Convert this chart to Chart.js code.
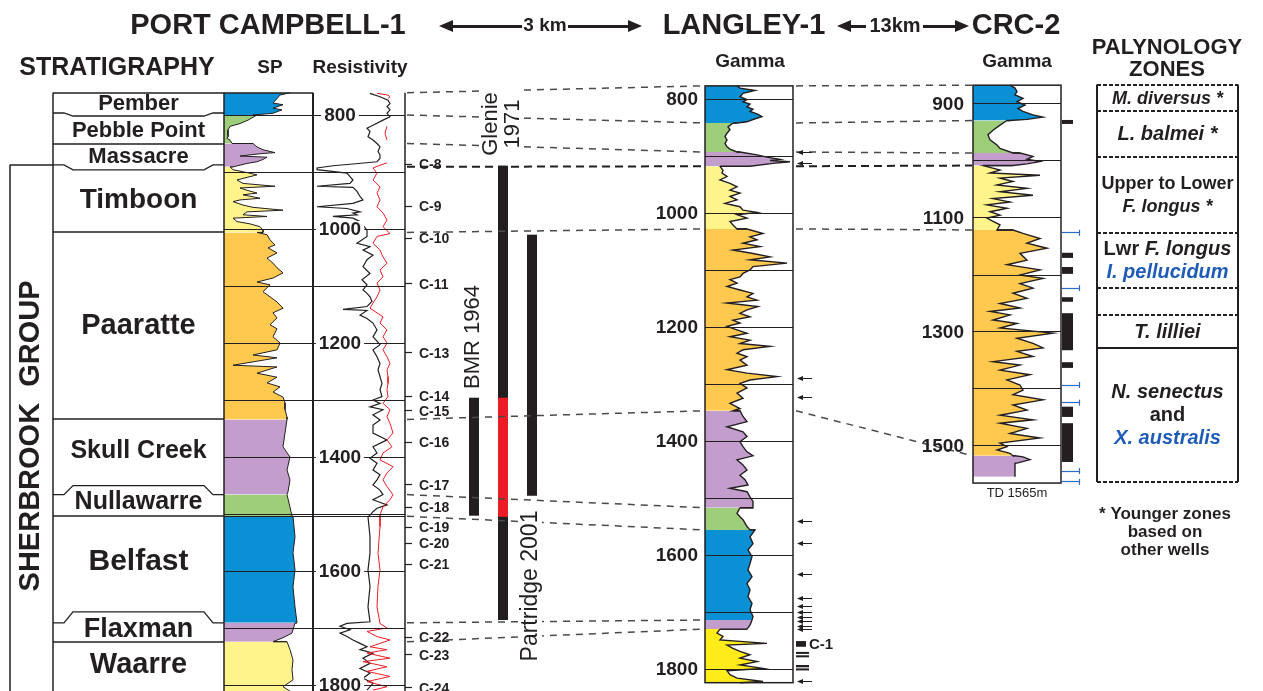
<!DOCTYPE html>
<html>
<head>
<meta charset="utf-8">
<title>Port Campbell-1 / Langley-1 / CRC-2 correlation</title>
<script src="https://cdn.jsdelivr.net/npm/chart.js@4.4.1/dist/chart.umd.min.js"></script>
<style>
  html, body { margin: 0; padding: 0; background: #fff; }
  canvas { display: block; }
</style>
</head>
<body>
<canvas id="wells" width="1263" height="691"></canvas>
<script>
// ---- data ----------------------------------------------------------------
const formations = ['Pember', 'Pebble Point', 'Massacre', 'Timboon', 'Paaratte',
  'Skull Creek', 'Nullawarre', 'Belfast', 'Flaxman', 'Waarre'];

// formation tops (m); the last entry is the base of the logged section
const pcTops = [761, 800, 850, 891, 1006, 1334, 1466, 1504, 1691, 1724, 1811];
const langleyTops = [777, 842, 893, 918, 1028, 1347, 1517, 1556, 1714, 1730, 1824];
const crcTops = [867, 929, 986, 1008, 1121, 1517, 1554];
const crcTD = 1565;

// Port Campbell-1 SP deflection [depth m, mV]
const pcSP = [
  [761,66],[765,56],[779,49],[782,59],[788,49],[791,58],[797,49],[800,29],
  [800,33],[809,24],[815,16],[820,6],[826,4],[832,4],[838,4],[841,3],[844,6],[850,8],
  [850,29],[856,33],[861,39],[866,51],[868,36],[872,16],[874,43],[878,39],[882,33],[885,23],[891,9],
  [891,6],[896,9],[901,23],[905,33],[909,24],[914,13],[920,19],[925,51],[928,16],[932,23],[937,33],
  [940,19],[946,36],[949,16],[952,9],[958,19],[962,29],[967,59],[970,23],[975,19],[978,43],[981,9],
  [987,13],[991,26],[996,36],[1002,39],[1006,39],
  [1006,33],[1010,43],[1019,46],[1028,51],[1033,44],[1042,53],[1051,43],[1060,49],[1068,53],[1077,59],
  [1086,49],[1093,33],[1098,46],[1110,39],[1119,46],[1128,53],[1139,59],[1147,49],[1156,53],[1168,46],
  [1175,53],[1189,49],[1200,56],[1212,53],[1221,29],[1226,53],[1239,9],[1242,53],[1253,33],[1260,53],
  [1270,43],[1277,56],[1286,49],[1295,59],[1305,61],[1317,61],[1330,63],[1334,63],
  [1334,63],[1358,61],[1382,59],[1400,66],[1423,63],[1440,66],[1461,64],[1466,63],
  [1466,63],[1488,66],[1504,68],
  [1504,69],[1540,71],[1568,69],[1598,71],[1628,69],[1663,71],[1691,73],
  [1691,71],[1709,68],[1717,59],[1724,49],
  [1724,63],[1738,66],[1756,69],[1773,68],[1791,69],[1803,59],[1811,66]
];

// Port Campbell-1 resistivity, deep (black) and shallow (red) [depth m, ohm.m]
const pcResDeep = [
  [762,55],[768,65],[774,73],[780,75],[785,72],[791,75],[797,72],[803,75],[809,68],[818,58],
  [823,52],[829,55],[838,53],[844,58],[850,62],[856,65],[864,63],[870,65],[876,65],[882,62],
  [886,38],[889,18],[893,2],[896,2],[902,32],[908,35],[914,38],[920,35],[925,2],[927,38],
  [934,42],[943,45],[949,48],[955,38],[961,2],[964,32],[970,45],[972,38],[975,42],[978,18],
  [981,38],[987,45],[993,48],[1002,52],[1013,52],[1025,42],[1031,55],[1037,48],[1046,58],[1054,52],
  [1066,48],[1078,55],[1089,47],[1098,52],[1107,48],[1113,52],[1119,55],[1127,57],[1136,52],[1141,28],
  [1143,52],[1151,45],[1157,52],[1165,58],[1177,62],[1189,58],[1203,65],[1212,58],[1224,62],[1236,65],
  [1247,63],[1259,65],[1271,67],[1282,65],[1294,67],[1300,58],[1306,65],[1312,55],[1317,68],[1326,58],
  [1335,65],[1344,58],[1358,58],[1370,72],[1382,58],[1393,62],[1402,55],[1411,62],[1423,58],[1431,65],
  [1440,62],[1449,58],[1458,65],[1466,68],[1475,58],[1484,72],[1490,62],[1496,58],[1502,55],[1505,53],
  [1540,55],[1569,55],[1598,53],[1627,55],[1663,53],[1689,55],[1692,32],[1697,25],[1703,35],[1709,25],
  [1715,32],[1721,38],[1727,45],[1733,52],[1738,45],[1744,58],[1753,48],[1762,55],[1771,45],[1779,55],
  [1788,48],[1797,58],[1809,52]
];
const pcResShallow = [
  [762,62],[765,73],[768,75],[771,73],[775,null],[820,72],[832,70],[844,72],[850,null],
  [884,72],[888,65],[893,58],[902,62],[914,58],[926,65],[937,62],[949,65],[961,62],[972,68],
  [984,72],[996,68],[1008,75],[1013,62],[1025,58],[1037,65],[1049,68],[1060,72],[1072,65],[1084,68],
  [1095,62],[1107,65],[1119,62],[1130,58],[1139,55],[1154,68],[1165,65],[1177,72],[1189,68],[1200,72],
  [1212,68],[1224,72],[1236,75],[1247,72],[1259,73],[1271,73],[1282,72],[1294,73],[1306,68],[1317,75],
  [1329,72],[1341,75],[1358,78],[1370,72],[1382,77],[1393,68],[1405,65],[1417,78],[1428,72],[1440,68],
  [1452,72],[1466,78],[1475,75],[1487,68],[1502,65],[1522,65],[1569,63],[1598,65],[1627,63],[1663,62],
  [1692,65],[1700,72],[1706,52],[1715,62],[1721,75],[1733,55],[1738,72],[1744,52],[1753,75],[1759,48],
  [1768,72],[1776,52],[1785,75],[1794,52],[1803,72],[1809,58]
];

// Langley-1 gamma ray [depth m, API]
const langleyGR = [
  [777,32],[781,35],[785,50],[790,38],[796,35],[801,42],[805,38],[809,45],[814,42],[818,48],
  [822,45],[826,52],[831,57],[836,48],[840,42],[842,32],
  [842,28],[849,23],[854,25],[860,22],[866,20],[872,22],[878,20],[884,22],[888,25],[893,32],
  [893,35],[898,52],[902,62],[906,75],[908,65],[910,85],[913,68],[918,45],
  [918,15],[925,18],[930,17],[936,22],[942,15],[948,25],[954,32],[960,25],[965,35],[971,25],
  [977,32],[983,20],[989,35],[995,38],[999,52],[1003,32],[1009,42],[1015,25],[1021,28],[1028,32],
  [1028,42],[1036,58],[1042,45],[1047,52],[1053,38],[1059,55],[1065,28],[1071,48],[1077,65],[1082,45],
  [1088,82],[1094,48],[1100,45],[1106,38],[1112,35],[1117,25],[1123,32],[1129,22],[1135,35],[1141,48],
  [1147,42],[1153,52],[1158,22],[1164,53],[1170,42],[1176,35],[1182,45],[1188,28],[1193,35],[1199,22],
  [1205,32],[1211,42],[1217,25],[1223,45],[1229,35],[1234,65],[1240,38],[1246,32],[1252,42],[1258,35],
  [1267,42],[1275,22],[1281,42],[1287,72],[1293,45],[1299,35],[1307,42],[1316,32],[1325,38],[1334,25],
  [1343,35],[1347,28],
  [1347,35],[1357,38],[1366,42],[1375,22],[1384,38],[1392,42],[1401,35],[1410,38],[1419,42],[1426,48],
  [1433,32],[1442,38],[1451,42],[1460,35],[1468,40],[1477,43],[1483,25],[1489,42],[1498,45],[1506,48],[1517,48],
  [1517,35],[1527,32],[1533,35],[1538,38],[1544,40],[1550,42],[1556,45],
  [1556,50],[1568,45],[1580,48],[1591,43],[1603,47],[1615,45],[1626,43],[1638,47],[1650,42],[1661,45],
  [1673,43],[1685,47],[1696,45],[1708,48],[1714,47],
  [1714,47],[1723,45],[1730,42],
  [1730,15],[1737,12],[1743,18],[1749,15],[1755,62],[1758,22],[1764,28],[1769,35],[1775,45],[1781,35],
  [1787,52],[1793,35],[1799,58],[1803,22],[1810,25],[1816,32],[1822,58],[1824,35]
];

// CRC-2 gamma ray [depth m, API]
const crcGR = [
  [867,37],[872,42],[878,44],[884,42],[890,50],[896,44],[902,52],[908,45],[913,50],[919,60],
  [923,70],[927,54],[929,37],
  [929,34],[937,27],[946,20],[954,15],[963,17],[972,24],[978,27],[986,40],
  [986,47],[992,60],[997,54],[1001,67],[1005,54],[1008,40],
  [1008,10],[1016,27],[1021,17],[1025,67],[1030,27],[1036,40],[1042,24],[1048,54],[1054,27],[1060,60],
  [1066,20],[1072,37],[1077,14],[1083,34],[1089,17],[1095,27],[1100,14],[1106,20],[1112,27],[1121,24],
  [1121,40],[1127,50],[1136,67],[1144,54],[1153,74],[1162,47],[1174,54],[1182,34],[1191,67],[1200,47],
  [1206,70],[1215,47],[1223,60],[1232,40],[1241,54],[1250,27],[1258,47],[1264,17],[1270,37],[1279,20],
  [1285,44],[1293,27],[1302,80],[1311,44],[1320,60],[1328,70],[1334,44],[1343,60],[1352,20],[1358,47],
  [1367,27],[1375,57],[1384,34],[1393,47],[1402,50],[1410,40],[1419,70],[1428,40],[1437,54],[1446,27],
  [1454,60],[1460,27],[1469,54],[1478,37],[1486,67],[1495,27],[1501,34],[1507,24],[1513,37],[1517,40],
  [1517,42],[1519,50],[1524,57],[1530,44],[1530,42],[1554,42]
];

// depth grid and labelled depths
const pcGrid = [800, 900, 1000, 1100, 1200, 1300, 1400, 1500, 1600, 1700, 1800];
const pcDepthLabels = [800, 1000, 1200, 1400, 1600, 1800];
const langleyGrid = [800, 900, 1000, 1100, 1200, 1300, 1400, 1500, 1600, 1700, 1800];
const langleyDepthLabels = [800, 1000, 1200, 1400, 1600, 1800];
const crcGrid = [900, 1000, 1100, 1200, 1300, 1400, 1500];
const crcDepthLabels = [900, 1100, 1300, 1500];

// Port Campbell-1 samples
const pcSampleNames = ['C-8', 'C-9', 'C-10', 'C-11', 'C-13', 'C-14', 'C-15', 'C-16', 'C-17',
  'C-18', 'C-19', 'C-20', 'C-21', 'C-22', 'C-23', 'C-24'];
const pcSampleDepths = [886, 960, 1016, 1096, 1217, 1293, 1319, 1374, 1449, 1488, 1523, 1551,
  1588, 1716, 1747, 1805];

// published ranges of the Sherbrook section in Port Campbell-1
const rangeNames = ['BMR 1964', 'Glenie 1971', 'Partridge 2001'];
const rangeTops = [1296, 889, 1010];
const rangeBases = [1503, 1686, 1468];
const glenieRedTop = 1296;
const glenieRedBase = 1505;

// Langley-1 sample markers
const langleyArrows = [893, 914, 1291, 1324, 1542, 1579, 1635, 1677, 1691, 1700, 1709, 1717, 1726, 1731, 1822];
const langleyCores = [[1751, 1761], [1770, 1773], [1776, 1779], [1793, 1797], [1799, 1802]];
const langleyCoreName = 'C-1';

// CRC-2 cores and sample points
const crcCores = [[928, 935], [1161, 1170], [1186, 1198], [1239, 1247], [1267, 1332], [1353, 1363],
  [1431, 1449], [1460, 1528]];
const crcArrows = [1126, 1223, 1393, 1424, 1544, 1563];

// palynology zones on the CRC-2 depth scale
const palyTops = [866, 912, 993, 1126, 1223, 1270, 1328, 1563];
const palyContact = ['dash', 'dash', 'dash', 'dash', 'dash', 'dash', 'solid', 'dash'];
// each zone: lines of [text, style] runs (i = italic, b = blue)
const palyZones = [
  [[['M. diversus *', 'i']]],
  [[['L. balmei *', 'i']]],
  [[['Upper to Lower', '']], [['F. longus *', 'i']]],
  [[['Lwr ', ''], ['F. longus', 'i']], [['I. pellucidum', 'ib']]],
  [],
  [[['T. lilliei', 'i']]],
  [[['N. senectus', 'i']], [['and', '']], [['X. australis', 'ib']]]
];

// ---- styles & layout -----------------------------------------------------
const W = 1263, H = 691, PXM = 0.57;
const FONT = '"Liberation Sans", Arial, Helvetica, sans-serif';
const INK = '#231f20';
const RED = '#ed1c24';
const BLUE_TEXT = '#1f5cb8';
const fmColor = {
  'Pember': '#0a90d4', 'Pebble Point': '#9fce7a', 'Massacre': '#c39dcc', 'Timboon': '#fff48c',
  'Paaratte': '#fec94e', 'Skull Creek': '#c39dcc', 'Nullawarre': '#9fce7a', 'Belfast': '#0a90d4',
  'Flaxman': '#c39dcc', 'Waarre': '#fff48c'
};
const langleyWaarre = '#ffec1a';
const stratFont = {
  'Pember': 22, 'Pebble Point': 22, 'Massacre': 22, 'Timboon': 28, 'Paaratte': 29,
  'Skull Creek': 25, 'Nullawarre': 25, 'Belfast': 30, 'Flaxman': 27, 'Waarre': 29
};
const stratNudge = { 'Pebble Point': 2, 'Massacre': 2, 'Timboon': 1, 'Skull Creek': -6,
  'Nullawarre': -3, 'Belfast': -8, 'Flaxman': -3, 'Waarre': -1 };
// unconformity notch height in px (+ down, - up) on the column contacts
const contactNotch = { 'Pebble Point': 3, 'Timboon': 5, 'Nullawarre': -9, 'Flaxman': -11 };

const X = {
  group: 10, stratL: 53, stratR: 224, spR: 313, resR: 405,
  langL: 705, langR: 793, crcL: 973, crcR: 1061, palyL: 1097, palyR: 1238
};
const rangeX = [469, 498, 527];
const rangeW = 10;

function font(size, bold = true, italic = false) {
  return (italic ? 'italic ' : '') + (bold ? 'bold ' : '') + size + 'px ' + FONT;
}

// vertical depth axis: refDepth sits at refPx, fixed metres-per-pixel
function depthAxis(refDepth, refPx) {
  const min = refDepth - refPx / PXM;
  return { type: 'linear', axis: 'y', display: false, reverse: true, min, max: min + H / PXM };
}
// log value axis squeezed into one track [left, right]
function trackAxis(left, right, vmin, vmax) {
  const k = (vmax - vmin) / (right - left);
  const min = vmin - left * k;
  return { type: 'linear', axis: 'x', display: false, min, max: min + W * k };
}

// ---- datasets ------------------------------------------------------------
const datasets = [];

function addFilledLog(curve, tops, colorOf, xAxisID, yAxisID, lineWidth) {
  for (let i = 0; i < tops.length - 1; i++) {
    const pts = curve
      .filter(p => p[0] >= tops[i] && p[0] <= tops[i + 1])
      .map(p => ({ x: p[1], y: p[0] }));
    datasets.push({
      data: pts, xAxisID, yAxisID, indexAxis: 'y',
      backgroundColor: colorOf(i), borderColor: INK, borderWidth: lineWidth,
      fill: { value: 0 }, pointRadius: 0, tension: 0
    });
  }
}

addFilledLog(pcSP, pcTops, i => fmColor[formations[i]], 'sp', 'dPC', 1);
addFilledLog(langleyGR, langleyTops,
  i => formations[i] === 'Waarre' ? langleyWaarre : fmColor[formations[i]], 'gL', 'dL', 1.4);
addFilledLog(crcGR, crcTops, i => fmColor[formations[i]], 'gC', 'dC', 1.4);

datasets.push({
  data: pcResShallow.map(p => ({ x: p[1], y: p[0] })), xAxisID: 'res', yAxisID: 'dPC',
  indexAxis: 'y', borderColor: RED, borderWidth: 1, fill: false, pointRadius: 0, tension: 0
});
datasets.push({
  data: pcResDeep.map(p => ({ x: p[1], y: p[0] })), xAxisID: 'res', yAxisID: 'dPC',
  indexAxis: 'y', borderColor: INK, borderWidth: 1.2, fill: false, pointRadius: 0, tension: 0
});

// ---- everything that is not a log curve ----------------------------------
const wellArt = {
  id: 'wellArt',
  afterDatasetsDraw(chart) {
    const ctx = chart.ctx;
    const sc = chart.scales;
    const yP = d => sc.dPC.getPixelForValue(d);
    const yL = d => sc.dL.getPixelForValue(d);
    const yC = d => sc.dC.getPixelForValue(d);

    const crisp = (v, w) => (Math.round(w) % 2 ? Math.round(v - 0.5) + 0.5 : Math.round(v));
    const seg = (x1, y1, x2, y2, w = 1, c = INK, dash = []) => {
      ctx.save();
      ctx.strokeStyle = c; ctx.lineWidth = w; ctx.setLineDash(dash);
      ctx.beginPath(); ctx.moveTo(x1, y1); ctx.lineTo(x2, y2); ctx.stroke();
      ctx.restore();
    };
    const hl = (x1, x2, y, w = 1, c = INK, dash = []) => seg(x1, crisp(y, w), x2, crisp(y, w), w, c, dash);
    const vl = (x, y1, y2, w = 1, c = INK) => seg(crisp(x, w), y1, crisp(x, w), y2, w, c);
    const text = (s, x, y, f, c = INK, align = 'center') => {
      ctx.font = f; ctx.fillStyle = c; ctx.textAlign = align; ctx.textBaseline = 'middle';
      ctx.fillText(s, x, y);
    };
    const vtext = (s, x, y, f, c = INK, bg = false) => {
      ctx.save();
      ctx.translate(x, y); ctx.rotate(-Math.PI / 2);
      ctx.font = f; ctx.textAlign = 'center'; ctx.textBaseline = 'middle';
      if (bg) {
        const w = ctx.measureText(s).width;
        ctx.fillStyle = '#fff'; ctx.fillRect(-w / 2 - 3, -11, w + 6, 22);
      }
      ctx.fillStyle = c; ctx.fillText(s, 0, 0);
      ctx.restore();
    };
    const arrowHead = (tipX, y, dir, len, half) => {
      ctx.beginPath();
      ctx.moveTo(tipX, y);
      ctx.lineTo(tipX + dir * len, y - half);
      ctx.lineTo(tipX + dir * len, y + half);
      ctx.closePath(); ctx.fill();
    };

    const pcTop = yP(pcTops[0]);

    // ---- Port Campbell-1 tracks
    pcGrid.forEach(d => hl(X.stratR, X.resR, yP(d), 1));
    pcDepthLabels.forEach(d => {
      ctx.font = font(19);
      const w = ctx.measureText(String(d)).width;
      ctx.fillStyle = '#fff';
      ctx.fillRect(340 - w / 2 - 3, yP(d) - 8, w + 6, 16);
      text(String(d), 340, yP(d) + 1, font(19));
    });
    hl(X.stratL, X.spR, pcTop, 1.5);
    vl(X.stratL, pcTop, H, 1.5);
    vl(X.stratR, pcTop, H, 1.5);
    vl(X.spR, pcTop, H, 2);
    vl(X.resR, pcTop, H, 1.5);

    // stratigraphic column contacts
    for (let i = 1; i < formations.length; i++) {
      const name = formations[i];
      const y = yP(pcTops[i]);
      const amp = contactNotch[name];
      if (amp) {
        const side = y + (amp > 0 ? -2 : 0);
        const mid = side + amp;
        ctx.save();
        ctx.strokeStyle = INK; ctx.lineWidth = 1.3;
        ctx.beginPath();
        ctx.moveTo(X.stratL, side); ctx.lineTo(64, side); ctx.lineTo(73, mid);
        ctx.lineTo(204, mid); ctx.lineTo(213, side); ctx.lineTo(X.stratR, side);
        ctx.stroke();
        ctx.restore();
      } else {
        hl(X.stratL, X.stratR, y, 1.5);
      }
    }
    hl(X.stratR, X.resR, yP(pcTops[formations.indexOf('Belfast')]), 1);
    for (let i = 0; i < formations.length; i++) {
      const name = formations[i];
      const yc = (yP(pcTops[i]) + yP(pcTops[i + 1])) / 2 + (stratNudge[name] || 0);
      text(name, (X.stratL + X.stratR) / 2, yc, font(stratFont[name]));
    }

    // Sherbrook Group bracket
    const gTop = yP(pcTops[formations.indexOf('Timboon')]) - 2;
    hl(X.group, X.stratL, gTop, 1.5);
    vl(X.group, gTop, H, 1.5);
    vtext('SHERBROOK  GROUP', 31, (gTop + H) / 2 + 8, font(29));

    // sample depths
    pcSampleNames.forEach((s, i) => {
      const y = yP(pcSampleDepths[i]);
      hl(X.resR, X.resR + 7, y, 1.2);
      text(s, 419, y + 1, font(14), INK, 'left');
    });

    // published ranges
    rangeNames.forEach((s, i) => {
      ctx.fillStyle = INK;
      ctx.fillRect(rangeX[i], yP(rangeTops[i]), rangeW, yP(rangeBases[i]) - yP(rangeTops[i]));
    });
    ctx.fillStyle = RED;
    ctx.fillRect(rangeX[1], yP(glenieRedTop), rangeW, yP(glenieRedBase) - yP(glenieRedTop));

    // ---- correlation lines
    for (let i = 0; i < formations.length; i++) {
      const bold = formations[i] === 'Timboon';
      const w = bold ? 2 : 1.5;
      const c = bold ? INK : '#4a4a4a';
      const dash = bold ? [8, 5] : [7, 6];
      seg(407, yP(pcTops[i]), X.langL - 2, yL(langleyTops[i]), w, c, dash);
      if (i < crcTops.length - 1) {
        seg(X.langR + 3, yL(langleyTops[i]), X.crcL - 1, yC(crcTops[i]), w, c, dash);
      }
    }

    // range labels knock out the correlation lines
    vtext('BMR 1964', rangeX[0] + 4, 337, font(22, false), INK, true);
    ctx.fillStyle = '#fff';
    ctx.fillRect(481, 88, 42, 72);
    vtext('Glenie', 491, 124, font(22, false));
    vtext('1971', 513, 124, font(22, false));
    vtext('Partridge 2001', rangeX[2] + 4, 586, font(23, false), INK, true);

    // ---- Langley-1
    langleyGrid.forEach(d => hl(X.langL, X.langR, yL(d), 1));
    ctx.strokeStyle = INK; ctx.lineWidth = 1.5;
    ctx.strokeRect(X.langL, yL(langleyTops[0]), X.langR - X.langL, yL(langleyTops[langleyTops.length - 1]) - yL(langleyTops[0]));
    langleyDepthLabels.forEach(d => text(String(d), 698, yL(d) + 1, font(19), INK, 'right'));
    langleyArrows.forEach(d => {
      const y = yL(d);
      hl(X.langR + 5, X.langR + 19, y, 1);
      ctx.fillStyle = INK;
      arrowHead(X.langR + 4, crisp(y, 1), 1, 6, 2.5);
    });
    langleyCores.forEach(([a, b], i) => {
      ctx.fillStyle = INK;
      ctx.fillRect(X.langR + 3, yL(a), i === 0 ? 10 : 13, Math.max(2, yL(b) - yL(a)));
    });
    text(langleyCoreName, X.langR + 16, (yL(langleyCores[0][0]) + yL(langleyCores[0][1])) / 2 + 1, font(15), INK, 'left');

    // ---- CRC-2
    crcGrid.forEach(d => hl(X.crcL, X.crcR, yC(d), 1));
    ctx.strokeStyle = INK; ctx.lineWidth = 1.5;
    ctx.strokeRect(X.crcL, yC(crcTops[0]), X.crcR - X.crcL, yC(crcTD) - yC(crcTops[0]));
    crcDepthLabels.forEach(d => text(String(d), 964, yC(d) + 1, font(19), INK, 'right'));
    text('TD ' + crcTD + 'm', (X.crcL + X.crcR) / 2, yC(crcTD) + 10, font(13, false));
    crcCores.forEach(([a, b]) => {
      ctx.fillStyle = INK;
      ctx.fillRect(X.crcR + 1, yC(a), 11, yC(b) - yC(a));
    });
    crcArrows.forEach(d => {
      const y = yC(d);
      hl(X.crcR + 1, X.crcR + 19, y, 1.2, '#2b6cc4');
      vl(X.crcR + 18, y - 3, y + 3, 1.2, '#2b6cc4');
    });

    // ---- palynology zones
    const pTop = yC(palyTops[0]);
    const pBot = yC(palyTops[palyTops.length - 1]);
    vl(X.palyL, pTop, pBot, 2);
    vl(X.palyR, pTop, pBot, 2);
    palyTops.forEach((d, i) => {
      if (palyContact[i] === 'solid') hl(X.palyL, X.palyR, yC(d), 2);
      else hl(X.palyL, X.palyR, yC(d), 2, INK, [4, 2]);
    });
    const palySize = [18, 20, 18, 20, 20, 20, 20];
    palyZones.forEach((lines, z) => {
      const yc = (yC(palyTops[z]) + yC(palyTops[z + 1])) / 2;
      const step = 23;
      lines.forEach((runs, k) => {
        const y = yc + (k - (lines.length - 1) / 2) * step + 1;
        const fs = palySize[z];
        let total = 0;
        runs.forEach(([s, st]) => { ctx.font = font(fs, true, st.includes('i')); total += ctx.measureText(s).width; });
        let x = (X.palyL + X.palyR) / 2 - total / 2;
        runs.forEach(([s, st]) => {
          const f = font(fs, true, st.includes('i'));
          ctx.font = f;
          const w = ctx.measureText(s).width;
          text(s, x, y, f, st.includes('b') ? BLUE_TEXT : INK, 'left');
          x += w;
        });
      });
    });
    text('PALYNOLOGY', 1167, 48, font(22));
    text('ZONES', 1167, 70, font(22));
    text('* Younger zones', 1165, 514, font(17));
    text('based on', 1165, 532, font(17));
    text('other wells', 1165, 550, font(17));

    // ---- headings
    text('PORT CAMPBELL-1', 268, 26, font(29));
    text('LANGLEY-1', 744, 26, font(29));
    text('CRC-2', 1016, 26, font(29));
    hl(448, 522, 26, 3); ctx.fillStyle = INK; arrowHead(439, 26, 1, 14, 6);
    text('3 km', 545, 26, font(19));
    hl(568, 632, 26, 3); ctx.fillStyle = INK; arrowHead(642, 26, -1, 14, 6);
    hl(846, 866, 26, 3); ctx.fillStyle = INK; arrowHead(837, 26, 1, 14, 6);
    text('13km', 895, 26, font(20));
    hl(923, 960, 26, 3); ctx.fillStyle = INK; arrowHead(969, 26, -1, 14, 6);
    text('STRATIGRAPHY', 117, 68, font(25));
    text('SP', 270, 68, font(19));
    text('Resistivity', 360, 68, font(19));
    text('Gamma', 750, 62, font(19));
    text('Gamma', 1017, 62, font(19));
  }
};

new Chart(document.getElementById('wells'), {
  type: 'line',
  data: { datasets },
  options: {
    indexAxis: 'y',
    responsive: false,
    animation: false,
    devicePixelRatio: 1,
    layout: { padding: 0 },
    plugins: { legend: { display: false }, tooltip: { enabled: false }, title: { display: false } },
    scales: {
      dPC: depthAxis(800, 115),
      dL: depthAxis(800, 99),
      dC: depthAxis(900, 104),
      sp: trackAxis(224, 312, 0, 88),
      res: trackAxis(315, 405, 0, 90),
      gL: trackAxis(X.langL, X.langR, 0, 88),
      gC: trackAxis(X.crcL, X.crcR, 0, 88)
    }
  },
  plugins: [wellArt]
});
</script>
</body>
</html>
